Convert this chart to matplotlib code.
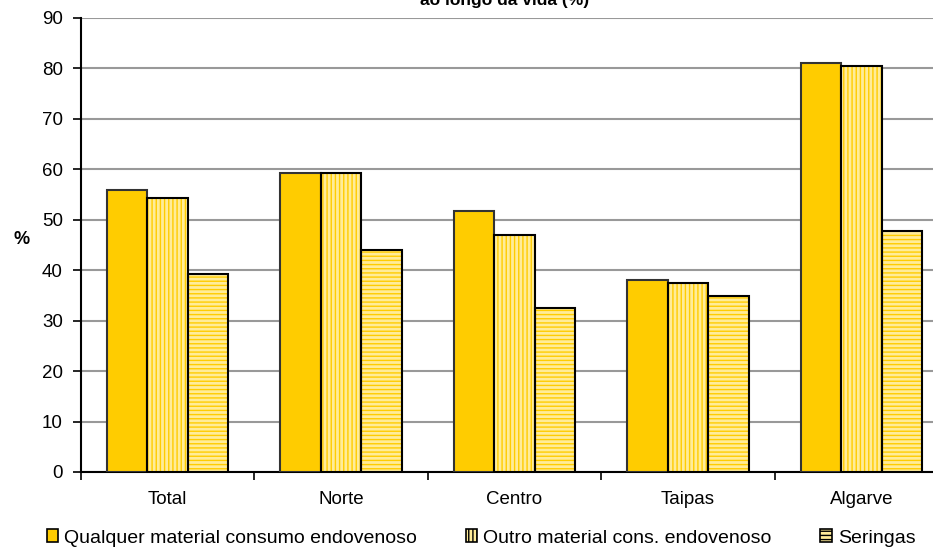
import matplotlib
matplotlib.use("Agg")
import matplotlib.pyplot as plt
from matplotlib.patches import Patch
import numpy as np

plt.rcParams['font.family'] = ['Liberation Sans', 'DejaVu Sans']
plt.rcParams['hatch.linewidth'] = 1.0

regions = ['Total', 'Norte', 'Centro', 'Taipas', 'Algarve']
series = ['Qualquer material consumo endovenoso',
          'Outro material cons. endovenoso',
          'Seringas']
qualquer = [55.9, 59.3, 51.8, 38.0, 81.1]
outro = [54.4, 59.3, 47.0, 37.4, 80.5]
seringas = [39.2, 44.1, 32.6, 34.8, 47.8]
title = 'ao longo da vida (%)'

gold = '#FFCC00'
pale = '#FFEC99'

fig = plt.figure(figsize=(9.33, 5.49), dpi=100)
ax = fig.add_axes([81/933, 1-472/549, (948-81)/933, (472-18)/549])

x = np.arange(len(regions))
w = 0.233
styles = [(gold, None), (pale, '||||'), (pale, '----')]
for i, (vals, (fc, hatch)) in enumerate(zip([qualquer, outro, seringas], styles)):
    pos = x + (i - 1) * w
    if hatch:
        ax.bar(pos, vals, w, color=fc, hatch=hatch, edgecolor=gold, linewidth=0, zorder=3)
        ax.bar(pos, vals, w, fill=False, edgecolor='black', linewidth=1.5, zorder=4)
    else:
        ax.bar(pos, vals, w, color=fc, edgecolor='#333333', linewidth=1.5, zorder=3)

ax.set_xlim(-0.5, len(regions) - 0.5)
ax.set_ylim(0, 90)
ax.set_yticks(range(0, 91, 10))
ax.yaxis.grid(True, color='#999999', linewidth=1.5, zorder=0)
ax.set_axisbelow(True)

ax.set_xticks(x)
ax.set_xticklabels(regions)
ax.set_xticks(np.arange(-0.5, len(regions)), minor=True)
ax.tick_params(axis='x', which='major', length=0, pad=14, labelsize=13.5)
ax.tick_params(axis='x', which='minor', length=6, width=1.2, direction='out')
ax.tick_params(axis='y', length=6, width=1.2, labelsize=13.5, pad=7)

for s in ['top', 'right']:
    ax.spines[s].set_visible(False)
for s in ['left', 'bottom']:
    ax.spines[s].set_linewidth(1.5)
    ax.spines[s].set_color('black')

fig.text(22/933, 1-240/549, '%', fontsize=13, fontweight='bold', ha='center', va='center')
fig.text(505/933, 1-4.5/549, title, fontsize=12.5, fontweight='bold', ha='center', va='baseline')

handles = [
    Patch(facecolor=gold, edgecolor='black', linewidth=1.2),
    Patch(facecolor=pale, edgecolor='black', linewidth=1.2, hatch='||||'),
    Patch(facecolor=pale, edgecolor='black', linewidth=1.2, hatch='----'),
]
fig.legend(handles, series, loc='center', bbox_to_anchor=(481/933, 1-538/549), ncol=3,
           frameon=False, fontsize=14, handlelength=0.6, handleheight=0.6,
           handletextpad=0.3, columnspacing=2.5)

fig.savefig('out.png', dpi=100)
